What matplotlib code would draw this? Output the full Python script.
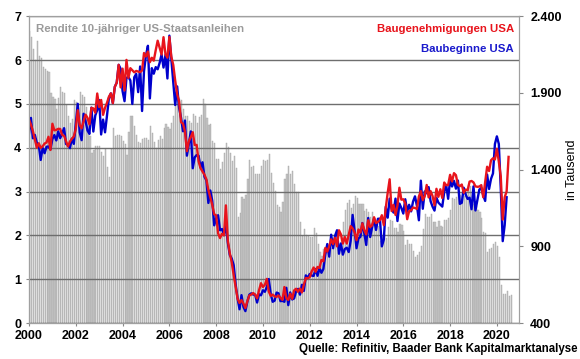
import numpy as np
import matplotlib.pyplot as plt

plt.rcParams['font.family'] = ['Liberation Sans', 'DejaVu Sans']
plt.rcParams['font.weight'] = 'bold'

# Rendite 10-jähriger US-Staatsanleihen (%), monatlich ab Jan 2000
rendite = [
    6.66, 6.52, 6.26, 5.99, 6.44, 6.10, 6.05, 5.83, 5.80, 5.74, 5.72, 5.24,
    5.16, 5.10, 4.89, 5.14, 5.39, 5.28, 5.24, 4.97, 4.73, 4.57, 4.65, 5.09,
    5.04, 4.91, 5.28, 5.21, 5.16, 4.93, 4.65, 4.26, 3.87, 3.94, 4.05, 4.03,
    4.05, 3.90, 3.81, 3.96, 3.57, 3.33, 3.98, 4.45, 4.27, 4.29, 4.30, 4.27,
    4.15, 4.08, 3.83, 4.35, 4.72, 4.73, 4.50, 4.28, 4.13, 4.10, 4.19, 4.23,
    4.22, 4.17, 4.50, 4.34, 4.14, 4.00, 4.18, 4.26, 4.20, 4.46, 4.54, 4.47,
    4.42, 4.57, 4.72, 4.99, 5.11, 5.11, 5.09, 4.88, 4.72, 4.73, 4.60, 4.56,
    4.76, 4.72, 4.56, 4.69, 4.75, 5.10, 5.00, 4.67, 4.52, 4.53, 4.15, 4.10,
    3.74, 3.74, 3.51, 3.68, 3.88, 4.10, 4.01, 3.89, 3.69, 3.81, 3.53, 2.42,
    2.52, 2.87, 2.82, 2.93, 3.29, 3.72, 3.56, 3.59, 3.40, 3.39, 3.40, 3.59,
    3.73, 3.69, 3.73, 3.85, 3.42, 3.20, 3.01, 2.70, 2.65, 2.54, 2.76, 3.29,
    3.39, 3.58, 3.41, 3.46, 3.17, 3.00, 3.00, 2.30, 1.98, 2.15, 2.01, 1.98,
    1.97, 1.97, 2.17, 2.05, 1.80, 1.62, 1.53, 1.68, 1.72, 1.75, 1.65, 1.72,
    1.91, 1.98, 1.96, 1.76, 1.93, 2.30, 2.58, 2.74, 2.81, 2.62, 2.72, 2.90,
    2.86, 2.71, 2.72, 2.71, 2.56, 2.60, 2.54, 2.42, 2.53, 2.30, 2.33, 2.21,
    1.88, 1.98, 2.04, 1.94, 2.20, 2.36, 2.32, 2.17, 2.17, 2.07, 2.26, 2.24,
    2.09, 1.78, 1.89, 1.81, 1.81, 1.64, 1.50, 1.56, 1.63, 1.76, 2.14, 2.49,
    2.43, 2.42, 2.48, 2.30, 2.30, 2.19, 2.32, 2.21, 2.20, 2.36, 2.35, 2.40,
    2.58, 2.86, 2.84, 2.87, 2.98, 2.91, 2.89, 2.89, 3.00, 3.15, 3.12, 2.83,
    2.71, 2.68, 2.57, 2.53, 2.40, 2.07, 2.06, 1.63, 1.70, 1.71, 1.81, 1.86,
    1.76, 1.50, 0.87, 0.66, 0.67, 0.73, 0.62, 0.65,
]

# Baugenehmigungen USA (Tsd.), monatlich ab Jan 2000
genehmigungen = [
    1727, 1692, 1651, 1597, 1543, 1572, 1542, 1552, 1570, 1577, 1614, 1528,
    1699, 1656, 1659, 1666, 1665, 1626, 1620, 1586, 1551, 1583, 1601, 1617,
    1665, 1787, 1691, 1669, 1716, 1758, 1738, 1695, 1803, 1799, 1771, 1896,
    1808, 1854, 1757, 1803, 1835, 1875, 1897, 1833, 1939, 1967, 2083, 1936,
    2058, 1916, 2115, 1998, 2061, 2048, 2034, 2043, 2039, 2035, 2046, 2160,
    2137, 2170, 2100, 2129, 2110, 2178, 2240, 2194, 2150, 2263, 2151, 2130,
    2265, 2136, 2082, 1979, 1892, 1844, 1709, 1699, 1648, 1520, 1586, 1612,
    1644, 1560, 1561, 1454, 1409, 1388, 1367, 1336, 1268, 1218, 1170, 1109,
    1102, 985, 954, 982, 972, 1167, 936, 855, 795, 712, 636, 559,
    531, 550, 528, 498, 543, 580, 586, 596, 585, 561, 614, 660,
    635, 650, 688, 606, 577, 586, 574, 571, 580, 564, 551, 635,
    563, 551, 591, 558, 613, 624, 604, 625, 600, 650, 694, 692,
    699, 737, 762, 734, 766, 760, 811, 803, 890, 866, 900, 946,
    915, 956, 900, 1005, 978, 918, 961, 918, 974, 1032, 1017, 991,
    940, 1010, 990, 1050, 1005, 978, 1070, 1026, 1037, 1090, 1052, 1060,
    1071, 1103, 1038, 1149, 1250, 1337, 1130, 1170, 1105, 1165, 1282, 1204,
    1207, 1180, 1077, 1130, 1135, 1153, 1150, 1144, 1225, 1260, 1201, 1228,
    1300, 1219, 1260, 1228, 1168, 1275, 1223, 1272, 1215, 1316, 1298, 1300,
    1366, 1323, 1377, 1364, 1301, 1292, 1303, 1249, 1270, 1265, 1322, 1326,
    1317, 1291, 1288, 1290, 1299, 1220, 1317, 1419, 1391, 1461, 1474, 1466,
    1536, 1452, 1356, 1074, 1220, 1258, 1483,
]

# Baubeginne USA (Tsd.), monatlich ab Jan 2000
baubeginne = [
    1636, 1737, 1604, 1626, 1575, 1559, 1463, 1541, 1507, 1549, 1551, 1532,
    1600, 1625, 1590, 1649, 1605, 1636, 1670, 1567, 1562, 1540, 1602, 1568,
    1698, 1829, 1642, 1592, 1764, 1717, 1655, 1633, 1804, 1648, 1753, 1788,
    1853, 1629, 1726, 1643, 1751, 1867, 1897, 1833, 1939, 1967, 2083, 2057,
    1911, 1846, 1998, 2003, 1981, 1828, 2002, 2024, 1905, 2072, 1782, 2042,
    2144, 2207, 1864, 2061, 2025, 2068, 2054, 2095, 2151, 2065, 2147, 1994,
    2273, 2119, 1969, 1821, 1942, 1802, 1737, 1650, 1720, 1491, 1570, 1649,
    1409, 1480, 1495, 1490, 1415, 1448, 1354, 1330, 1183, 1264, 1197, 1037,
    1084, 1103, 1005, 1013, 973, 1046, 923, 844, 820, 777, 652, 560,
    490, 582, 505, 478, 540, 585, 594, 586, 585, 534, 588, 581,
    614, 604, 636, 687, 588, 539, 546, 599, 594, 543, 545, 539,
    630, 517, 600, 554, 561, 608, 623, 585, 650, 610, 711, 694,
    720, 710, 707, 753, 708, 757, 728, 753, 847, 915, 833, 976,
    888, 969, 1005, 852, 919, 846, 883, 891, 863, 936, 1105, 1003,
    888, 952, 962, 1052, 985, 909, 1085, 961, 1024, 1081, 1007, 1080,
    1080, 900, 944, 1158, 1087, 1211, 1145, 1120, 1211, 1065, 1179, 1150,
    1114, 1207, 1128, 1171, 1128, 1192, 1226, 1163, 1070, 1328, 1145, 1258,
    1246, 1286, 1194, 1159, 1133, 1217, 1185, 1172, 1159, 1256, 1299, 1210,
    1334, 1290, 1327, 1276, 1329, 1177, 1184, 1282, 1237, 1209, 1217, 1142,
    1291, 1134, 1203, 1270, 1281, 1233, 1196, 1368, 1274, 1340, 1375, 1567,
    1617, 1567, 1276, 934, 1038, 1220,
]

jahre = [2000, 2002, 2004, 2006, 2008, 2010, 2012, 2014, 2016, 2018, 2020]

x_r = 2000 + np.arange(len(rendite)) / 12
x_g = 2000 + np.arange(len(genehmigungen)) / 12
x_b = 2000 + np.arange(len(baubeginne)) / 12

fig, ax = plt.subplots(figsize=(5.8, 3.59), dpi=100)
fig.subplots_adjust(left=0.05, right=0.895, top=0.955, bottom=0.1)

ax.bar(x_r, rendite, width=1 / 12 * 0.6, color='#c6c6c6',
       edgecolor='#a4a4a4', linewidth=0.3, align='edge')
ax.set_ylim(0, 7)
ax.set_xlim(2000, 2020.95)
ax.set_yticks(range(8))
ax.set_xticks(jahre)
ax.set_xticklabels([str(j) for j in jahre])
ax.grid(axis='y', color='#6e6e6e', linewidth=1)
ax.set_axisbelow(False)
ax.tick_params(axis='both', labelsize=9, length=2, color='#888888')
ax.tick_params(axis='x', pad=3)

ax2 = ax.twinx()
ax2.plot(x_b, baubeginne, color='#0000cc', linewidth=1.7)
ax2.plot(x_g, genehmigungen, color='#e8141c', linewidth=1.7)
ax2.set_ylim(400, 2400)
ax2.set_yticks([400, 900, 1400, 1900, 2400])
ax2.set_yticklabels(['400', '900', '1.400', '1.900', '2.400'])
ax2.tick_params(axis='y', labelsize=9, length=3, color='#888888', pad=5)
ax2.set_ylabel('in Tausend', fontsize=9, labelpad=3)

for a in (ax, ax2):
    for s in a.spines.values():
        s.set_color('#a0a0a0')
ax.spines['left'].set_color('#555555')
ax.spines['bottom'].set_color('#555555')

ax.text(0.015, 0.975, 'Rendite 10-jähriger US-Staatsanleihen', transform=ax.transAxes,
        color='#9a9a9a', fontsize=8.2, ha='left', va='top')
ax.text(0.99, 0.975, 'Baugenehmigungen USA', transform=ax.transAxes,
        color='#e8141c', fontsize=8.2, ha='right', va='top')
ax.text(0.99, 0.91, 'Baubeginne USA', transform=ax.transAxes,
        color='#1a1acc', fontsize=8.2, ha='right', va='top')
fig.text(0.995, 0.012, 'Quelle: Refinitiv, Baader Bank Kapitalmarktanalyse',
         fontsize=8.3, ha='right', va='bottom')

fig.savefig('out.png', dpi=100)
